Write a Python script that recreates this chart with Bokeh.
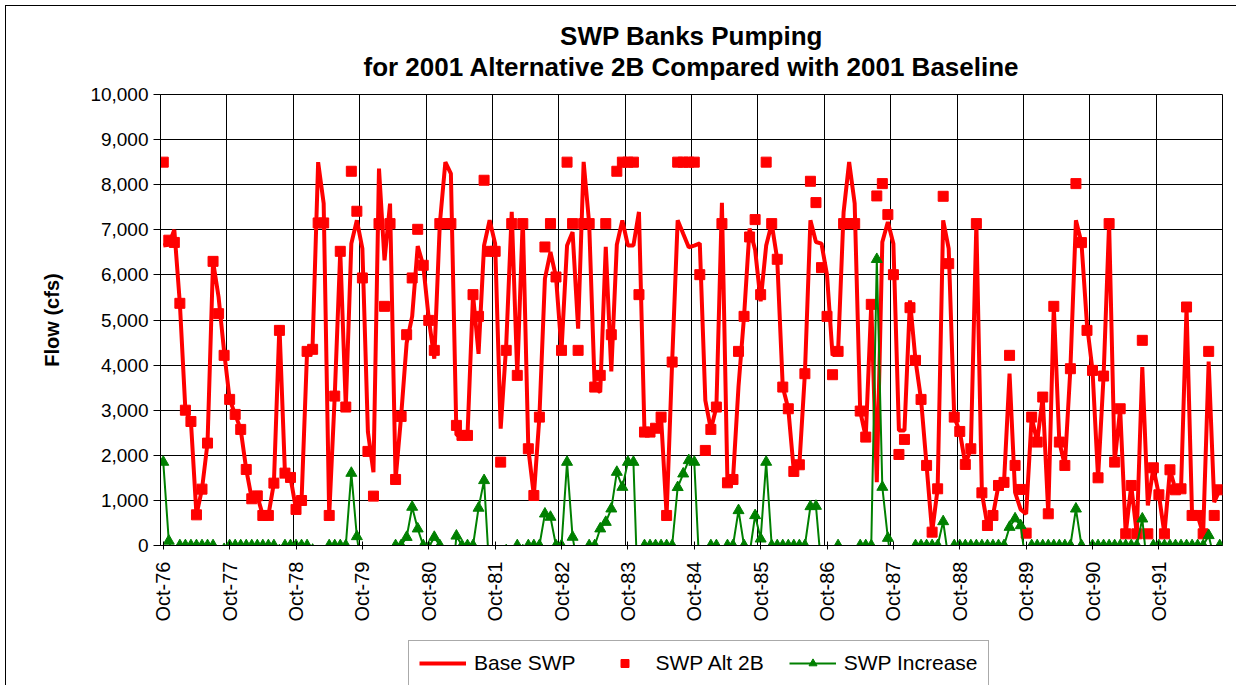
import math
from bokeh.plotting import figure
from bokeh.layouts import column
from bokeh.models import Range1d, FixedTicker, NumeralTickFormatter, Legend, LegendItem, Label
from bokeh.embed import file_html
from bokeh.resources import INLINE

# ---- data (monthly, Oct-76 .. Sep-92), flow in cfs ----
title_lines = ["SWP Banks Pumping", "for 2001 Alternative 2B Compared with 2001 Baseline"]
year_labels = ["Oct-76", "Oct-77", "Oct-78", "Oct-79", "Oct-80", "Oct-81", "Oct-82", "Oct-83",
               "Oct-84", "Oct-85", "Oct-86", "Oct-87", "Oct-88", "Oct-89", "Oct-90", "Oct-91"]

base_swp = [
    6650, 6670, 7000, 5370, 3000, 2750, 680, 1250, 2270, 6300, 5510, 4300,
    3240, 2907, 2574, 1686, 1036, 1100, 666, 666, 1383, 4880, 1605, 1509,
    800, 998, 4304, 4450, 8500, 7581, 666, 3313, 6523, 3070, 6693, 7211,
    6582, 2515, 1627, 8357, 6324, 7581, 1464, 2862, 4490, 5080, 6640, 6213,
    5030, 4142, 7137, 8500, 8246, 2450, 2441, 2441, 5562, 4250, 6656, 7211,
    6693, 2589, 4438, 7396, 3772, 7250, 2145, 1109, 2847, 5917, 6507, 5954,
    4327, 6651, 6950, 4807, 8505, 7137, 3513, 3400, 6620, 3860, 6671, 7206,
    6651, 6651, 7396, 2515, 2515, 2600, 2847, 666, 4068, 7211, 6910, 6614,
    6650, 6700, 3217, 2574, 3070, 7600, 1390, 1464, 3527, 5081, 7026, 6560,
    5414, 6650, 7137, 6346, 3513, 3032, 1642, 1790, 3809, 7211, 6730, 6693,
    6000, 4216, 4304, 7396, 8505, 7581, 2981, 2404, 5347, 1405, 6730, 7174,
    6693, 2552, 2552, 5436, 4105, 3239, 1775, 296, 1257, 7211, 6582, 2847,
    2529, 1797, 2145, 7137, 1168, 444, 666, 1331, 1400, 3809, 1180, 800,
    700, 2847, 2293, 3291, 703, 5303, 2293, 1775, 3920, 7211, 6716, 4900,
    3883, 1501, 3757, 7137, 1849, 3032, 259, 1331, 259, 3957, 888, 1723,
    1124, 259, 1679, 1235, 1257, 5288, 666, 666, 259, 4080, 961, 1235,
]

swp_alt_2b = [
    8500, 6770, 6720, 5370, 3000, 2750, 680, 1250, 2270, 6300, 5140, 4216,
    3240, 2907, 2574, 1686, 1036, 1100, 666, 666, 1383, 4770, 1605, 1509,
    800, 998, 4304, 4350, 7152, 7152, 666, 3313, 6523, 3070, 8298, 7411,
    5932, 2086, 1095, 7137, 5303, 7137, 1464, 2862, 4674, 5932, 7011, 6213,
    4992, 4327, 7137, 7137, 7137, 2663, 2441, 2441, 5562, 5081, 8099, 6523,
    6523, 1849, 4327, 7137, 3772, 7137, 2145, 1109, 2847, 6619, 7137, 5954,
    4327, 8500, 7137, 4327, 7137, 7137, 3513, 3772, 7137, 4674, 8298, 8500,
    8500, 8500, 5562, 2515, 2515, 2600, 2847, 666, 4068, 8500, 8500, 8500,
    8500, 6005, 2108, 2574, 3070, 7137, 1390, 1464, 4304, 5081, 6841, 7226,
    5562, 8500, 7137, 6346, 3513, 3032, 1642, 1790, 3809, 8076, 7603, 6161,
    5081, 3787, 4304, 7137, 7137, 7137, 2981, 2404, 5347, 7751, 8024, 7337,
    6005, 2019, 2352, 5273, 4105, 3239, 1775, 296, 1257, 7743, 6249, 2847,
    2529, 1797, 2145, 7137, 1168, 444, 666, 1331, 1400, 4216, 1775, 1243,
    274, 2847, 2293, 3291, 703, 5303, 2293, 1775, 3920, 8024, 6716, 4770,
    3883, 1501, 3757, 7137, 1849, 3032, 259, 1331, 259, 4549, 259, 1723,
    1124, 259, 1679, 1235, 1257, 5288, 666, 666, 259, 4304, 666, 1235,
]

swp_increase = [
    1850, 100, -280, 0, 0, 0, 0, 0, 0, 0, -370, -84,
    0, 0, 0, 0, 0, 0, 0, 0, 0, -110, 0, 0,
    0, 0, 0, -100, -1348, -429, 0, 0, 0, 0, 1605, 200,
    -650, -429, -532, -1220, -1021, -444, 0, 0, 184, 852, 371, 0,
    -38, 185, 0, -1363, -1109, 213, 0, 0, 0, 831, 1443, -688,
    -170, -740, -111, -259, 0, -113, 0, 0, 0, 702, 630, 0,
    0, 1849, 187, -480, -1368, 0, 0, 372, 517, 814, 1627, 1294,
    1849, 1849, -1834, 0, 0, 0, 0, 0, 0, 1289, 1590, 1886,
    1850, -695, -1109, 0, 0, -463, 0, 0, 777, 0, -185, 666,
    148, 1850, 0, 0, 0, 0, 0, 0, 0, 865, 873, -532,
    -919, -429, 0, -259, -1368, -444, 0, 0, 0, 6346, 1294, 163,
    -688, -533, -200, -163, 0, 0, 0, 0, 0, 532, -333, 0,
    0, 0, 0, 0, 0, 0, 0, 0, 0, 407, 595, 443,
    -426, 0, 0, 0, 0, 0, 0, 0, 0, 813, 0, -130,
    0, 0, 0, 0, 0, 0, 0, 0, 0, 592, -629, 0,
    0, 0, 0, 0, 0, 0, 0, 0, 0, 224, -295, 0,
]

months = list(range(len(base_swp)))

FONT = "Liberation Sans"
RED = "#FF0000"
GREEN = "#008000"

# the whole chart sits 5px in from the top-left, inside a thin black chart-area border
OFF = 6
W = 1236 - OFF
HEAD = 80 - OFF          # title strip: page y 6 .. 80
TOP = 94 - 80            # main figure top border: plot frame starts at page y 94

# ---- title strip ----
hd = figure(width=W, height=HEAD, output_backend="svg", toolbar_location=None,
            x_range=Range1d(0, 1), y_range=Range1d(0, HEAD),
            x_axis_location=None, y_axis_location=None,
            min_border_left=0, min_border_right=0, min_border_top=0, min_border_bottom=0)
hd.outline_line_color = None
hd.xgrid.visible = False
hd.ygrid.visible = False
hd.background_fill_color = "white"
hd.border_fill_color = "white"
for txt, yc in zip(title_lines, [HEAD - 29, HEAD - 60]):
    hd.add_layout(Label(x=0.5, y=yc, text=txt, text_align="center", text_baseline="middle",
                        text_font=FONT, text_font_size="26px", text_font_style="bold",
                        text_color="black"))

# ---- main chart ----
p = figure(width=W, height=635 - 80, output_backend="svg", toolbar_location=None,
           x_range=Range1d(-0.5, len(months) - 0.5), y_range=Range1d(0, 10000),
           min_border_left=160 - OFF, min_border_right=14, min_border_top=TOP,
           min_border_bottom=90)

p.background_fill_color = "white"
p.border_fill_color = "white"
p.outline_line_color = "black"
p.outline_line_width = 1

# grids
p.xgrid.ticker = FixedTicker(ticks=[12 * k + 11.5 for k in range(len(year_labels) - 1)])
p.xgrid.grid_line_color = "black"
p.xgrid.grid_line_width = 1
p.ygrid.ticker = FixedTicker(ticks=list(range(0, 10001, 1000)))
p.ygrid.grid_line_color = "black"
p.ygrid.grid_line_width = 1

# x axis
xa = p.xaxis[0]
xa.ticker = FixedTicker(ticks=[12 * k for k in range(len(year_labels))])
xa.major_label_overrides = {12 * k: lab for k, lab in enumerate(year_labels)}
xa.major_label_orientation = math.pi / 2
xa.major_label_text_font = FONT
xa.major_label_text_font_size = "20px"
xa.major_label_text_color = "black"
xa.major_label_standoff = 12
xa.axis_line_color = "black"
xa.major_tick_line_color = "black"
xa.major_tick_in = 4
xa.major_tick_out = 4
xa.minor_tick_line_color = None

# y axis
ya = p.yaxis[0]
ya.ticker = FixedTicker(ticks=list(range(0, 10001, 1000)))
ya.formatter = NumeralTickFormatter(format="0,0")
ya.major_label_text_font = FONT
ya.major_label_text_font_size = "19px"
ya.major_label_text_color = "black"
ya.major_label_standoff = 5
ya.axis_label = "Flow (cfs)"
ya.axis_label_text_font = FONT
ya.axis_label_text_font_size = "20px"
ya.axis_label_text_font_style = "bold"
ya.axis_label_text_color = "black"
ya.axis_label_standoff = 24
ya.axis_line_color = "black"
ya.major_tick_line_color = "black"
ya.major_tick_in = 0
ya.major_tick_out = 7
ya.minor_tick_line_color = None

# series
p.line(months, base_swp, line_color=RED, line_width=4)
p.scatter(months, swp_alt_2b, marker="square", size=10, fill_color=RED, line_color=RED)
p.line(months, swp_increase, line_color=GREEN, line_width=2)
p.scatter(months, swp_increase, marker="triangle", size=11, fill_color=GREEN, line_color=GREEN)

# ---- legend strip below the chart (same glyph styles; its one point lies outside the view) ----
lg = figure(width=W, height=50, output_backend="svg", toolbar_location=None,
            x_range=Range1d(0, 1), y_range=Range1d(0, 1),
            x_axis_location=None, y_axis_location=None,
            min_border_left=0, min_border_right=0, min_border_top=0, min_border_bottom=0)
lg.outline_line_color = None
lg.xgrid.visible = False
lg.ygrid.visible = False
lg.background_fill_color = "white"
lg.border_fill_color = "white"
off = [-5, -4]
l_base = lg.line(off, off, line_color=RED, line_width=4)
l_alt = lg.scatter(off, off, marker="square", size=10, fill_color=RED, line_color=RED)
l_inc_line = lg.line(off, off, line_color=GREEN, line_width=2)
l_inc_pts = lg.scatter(off, off, marker="triangle", size=11, fill_color=GREEN, line_color=GREEN)

legend = Legend(items=[
    LegendItem(label="Base SWP", renderers=[l_base]),
    LegendItem(label="SWP Alt 2B", renderers=[l_alt]),
    LegendItem(label="SWP Increase", renderers=[l_inc_line, l_inc_pts]),
], orientation="horizontal", location=(248, -1), margin=0,
    label_text_font=FONT, label_text_font_size="21px", label_text_color="black",
    glyph_width=47, glyph_height=20, label_standoff=8, spacing=25, padding=10,
    border_line_color="#555555", border_line_width=1,
    background_fill_color="white", background_fill_alpha=1)
lg.add_layout(legend, "center")

layout = column(hd, p, lg, spacing=0, margin=(OFF - 1, 0, 0, OFF - 1),
                styles={"border-top": "1px solid black", "border-left": "1px solid black"})
open("out.html", "w").write(file_html(layout, INLINE))
